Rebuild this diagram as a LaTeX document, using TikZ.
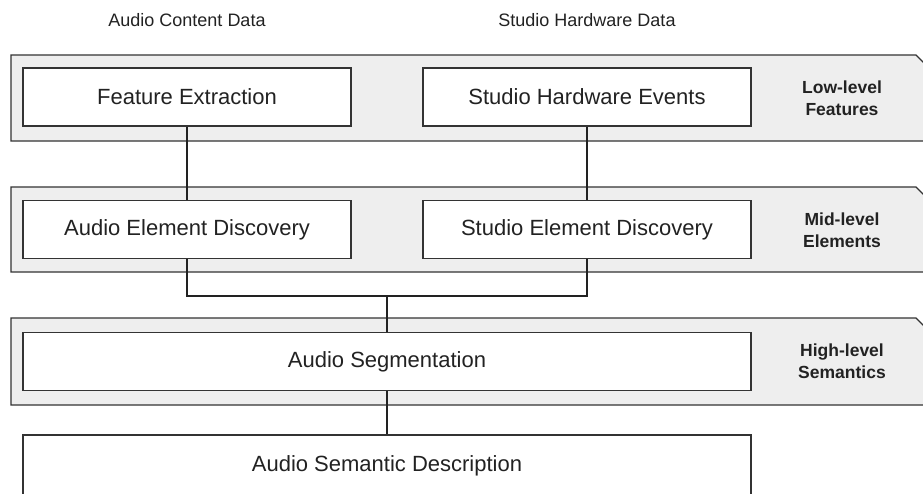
\documentclass[tikz,border=0pt]{standalone}
\usepackage{fontspec}
\setmainfont{Liberation Sans}
\definecolor{bandfill}{HTML}{EEEEEE}
\definecolor{edge}{HTML}{333333}
\definecolor{ink}{HTML}{222222}
\tikzset{
  band/.style={draw=edge, fill=bandfill, line width=1.3pt, line join=miter},
  procbox/.style={draw=edge, fill=white, line width=1.3pt, rectangle, minimum height=58pt,
    inner sep=0pt, text=ink, font=\fontsize{22}{24}\selectfont},
  toplabel/.style={text=ink, font=\fontsize{18}{20}\selectfont, inner sep=0pt},
  levellabel/.style={text=ink, font=\fontsize{17.5}{22}\selectfont\bfseries, align=center, inner sep=0pt},
  conn/.style={draw=ink, line width=1.2pt}
}
\begin{document}
\begin{tikzpicture}[x=1pt, y=-1pt]
\clip (0,0) rectangle (923,493);
\fill[white] (0,0) rectangle (923,493);
% bands
\draw[band] (11,55) -- (916,55) -- (940,79) -- (940,141) -- (11,141) -- cycle;
\draw[band] (11,187) -- (916,187) -- (940,211) -- (940,272) -- (11,272) -- cycle;
\draw[band] (11,318) -- (916,318) -- (940,342) -- (940,405) -- (11,405) -- cycle;
% top labels
\node[toplabel] (acd) at (187,20) {Audio Content Data};
\node[toplabel] (shd) at (587,20) {Studio Hardware Data};
% boxes
\node[procbox, minimum width=328pt] (fe) at (187,97) {Feature Extraction};
\node[procbox, minimum width=328pt] (she) at (587,97) {Studio Hardware Events};
\node[procbox, minimum width=328pt] (aed) at (187,229.5) {Audio Element Discovery};
\node[procbox, minimum width=328pt] (sed) at (587,229.5) {Studio Element Discovery};
\node[procbox, minimum width=728pt] (seg) at (387,361.5) {Audio Segmentation};
\node[procbox, minimum width=728pt, minimum height=120pt] (asd) at (387,495) {};
\node[text=ink, font=\fontsize{22}{24}\selectfont, inner sep=0pt] (asdt) at (387,466) {Audio Semantic Description};
% level labels
\node[levellabel] (ll) at (842,98) {Low-level\\Features};
\node[levellabel] (ml) at (842,230) {Mid-level\\Elements};
\node[levellabel] (hl) at (842,361.5) {High-level\\Semantics};
% connectors
\coordinate (j) at (387,296);
\draw[conn] (fe.south) -- (aed.north);
\draw[conn] (she.south) -- (sed.north);
\draw[conn] (aed.south) |- (j) -| (sed.south);
\draw[conn] (j) -- (seg.north);
\draw[conn] (seg.south) -- (asd.north);
\end{tikzpicture}
\end{document}
